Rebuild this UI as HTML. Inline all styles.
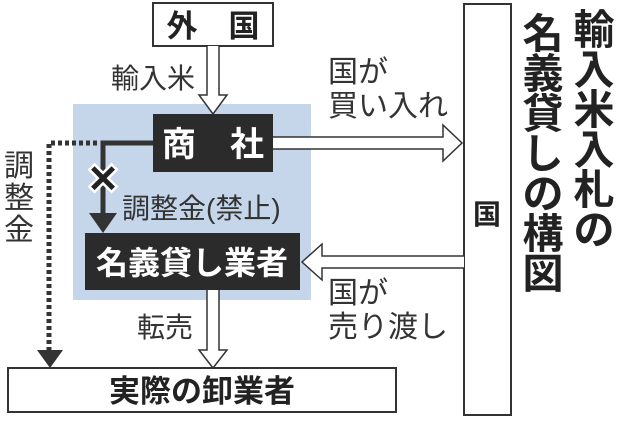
<!DOCTYPE html>
<html><head><meta charset="utf-8"><style>
body{margin:0;width:618px;height:421px;background:#fff;overflow:hidden}
svg text{font-family:"Liberation Sans","Noto Sans CJK JP",sans-serif}
</style></head><body>
<svg width="618" height="421" viewBox="0 0 618 421">
<rect x="73" y="104" width="238" height="196" fill="#c5d5ea"/>
<rect x="153" y="3" width="120" height="43" fill="#fff" stroke="#333" stroke-width="2"/>
<text x="213" y="37" font-size="31" font-weight="bold" text-anchor="middle" fill="#222">外　国</text>
<text x="153" y="88" font-size="28" text-anchor="middle" fill="#333">輸入米</text>
<path d="M207 46 V95 H199 L213 114 L227 95 H219 V46" fill="#fff" stroke="#333" stroke-width="1.5"/>
<rect x="153" y="114" width="120" height="58" fill="#2b2b2b"/>
<text x="213" y="156" font-size="34" font-weight="bold" text-anchor="middle" fill="#fff">商　社</text>
<path d="M273 137 H443 V125 L462 143 L443 161 V149 H273" fill="#fff" stroke="#333" stroke-width="1.5"/>
<text x="328" y="82" font-size="30" fill="#333">国が</text>
<text x="328" y="116" font-size="30" fill="#333">買い入れ</text>
<rect x="464" y="4" width="47" height="411" fill="#fff" stroke="#333" stroke-width="2"/>
<text x="487" y="224" font-size="28" font-weight="bold" text-anchor="middle" fill="#222">国</text>
<path d="M464 256 H322 V244 L302 262 L322 280 V268 H464" fill="#fff" stroke="#333" stroke-width="1.5"/>
<text x="328" y="303" font-size="30" fill="#333">国が</text>
<text x="328" y="337" font-size="30" fill="#333">売り渡し</text>
<path d="M153 143 H103 V215" fill="none" stroke="#333" stroke-width="5"/>
<polygon points="89,213 117,213 103,233" fill="#333"/>
<text x="103" y="192" font-size="38" font-weight="bold" text-anchor="middle" fill="#222" stroke="#fff" stroke-width="5" paint-order="stroke">✕</text>
<text x="122" y="218" font-size="28" fill="#333">調整金(禁止)</text>
<path d="M97 143 H49 V352" fill="none" stroke="#333" stroke-width="5" stroke-dasharray="4,3"/>
<polygon points="37,350 63,350 50,368" fill="#333"/>
<text x="4" y="176" font-size="30" fill="#333">調</text>
<text x="4" y="208" font-size="30" fill="#333">整</text>
<text x="4" y="240" font-size="30" fill="#333">金</text>
<rect x="85" y="233" width="215" height="57" fill="#2b2b2b"/>
<text x="192" y="274" font-size="32" font-weight="bold" text-anchor="middle" fill="#fff">名義貸し業者</text>
<path d="M207 290 V350 H199 L213 368 L227 350 H219 V290" fill="#fff" stroke="#333" stroke-width="1.5"/>
<text x="137" y="337" font-size="28" fill="#333">転売</text>
<rect x="8" y="368" width="388" height="44" fill="#fff" stroke="#333" stroke-width="2"/>
<text x="202" y="402" font-size="31" font-weight="bold" text-anchor="middle" fill="#222">実際の卸業者</text>
<g font-size="41" font-weight="bold" fill="#222" text-anchor="middle">
<text x="594" y="44">輸</text><text x="594" y="84">入</text><text x="594" y="124">米</text><text x="594" y="164">入</text><text x="594" y="204">札</text><text x="594" y="244">の</text>
<text x="543" y="48">名</text><text x="543" y="88">義</text><text x="543" y="128">貸</text><text x="543" y="168">し</text><text x="543" y="208">の</text><text x="543" y="248">構</text><text x="543" y="288">図</text>
</g>
</svg>
</body></html>
